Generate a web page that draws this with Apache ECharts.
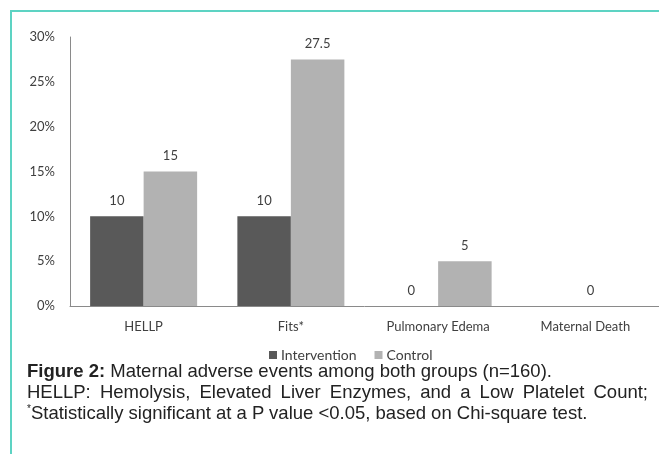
<!DOCTYPE html>
<html>
<head>
<meta charset="utf-8">
<script src="https://cdn.jsdelivr.net/npm/echarts@6/dist/echarts.min.js"></script>
<style>
  html, body { margin: 0; padding: 0; background: #fff; }
  #wrap { position: relative; width: 659px; height: 454px; overflow: hidden; }
  #chart { position: absolute; left: 0; top: 0; width: 659px; height: 454px; }
  #bt { position: absolute; left: 10px; top: 10px; width: 649px; height: 2px; background: #5dd3c3; }
  #bl { position: absolute; left: 10px; top: 10px; width: 2px; height: 444px; background: #5dd3c3; }
  .cap { position: absolute; left: 27px; font-family: "Liberation Sans", Arial, sans-serif; font-size: 18.5px; color: #222; white-space: nowrap; line-height: 21px; }
  #c2 { width: 621px; text-align: justify; text-align-last: justify; white-space: normal; }
</style>
</head>
<body>
<div id="wrap">
  <div id="chart"></div>
  <div id="bt"></div>
  <div id="bl"></div>
  <div class="cap" id="c1" style="top:360px;"><b>Figure 2:</b> Maternal adverse events among both groups (n=160).</div>
  <div class="cap" id="c2" style="top:381px;">HELLP: Hemolysis, Elevated Liver Enzymes, and a Low Platelet Count;</div>
  <div class="cap" id="c3" style="top:402px;"><sup style="font-size:10px;vertical-align:7px;line-height:0;">*</sup>Statistically significant at a P value &lt;0.05, based on Chi-square test.</div>
</div>
<script>
const categories = ["HELLP", "Fits*", "Pulmonary Edema", "Maternal Death"];
const intervention = [10, 10, 0, 0];
const control = [15, 27.5, 5, 0];
const yTicks = [0, 5, 10, 15, 20, 25, 30];

const chart = echarts.init(document.getElementById('chart'));
const font = 'Lato, "Open Sans", sans-serif';
const txt = '#404040';

const intData = intervention.map((v, i) => {
  if (i === 3) return { value: v, label: { offset: [32, 0] } };
  return v;
});
const ctlData = control.map((v, i) => {
  if (i === 3) return { value: v, label: { show: false } };
  return v;
});

chart.setOption({
  animation: false,
  grid: { left: 70, right: 0, top: 37, bottom: 148, containLabel: false },
  legend: {
    left: 264, top: 343,
    itemWidth: 8, itemHeight: 8, itemGap: 18,
    icon: 'rect',
    textStyle: { fontFamily: font, fontSize: 14, color: txt, padding: [0, 0, 0, -1] },
    data: ['Intervention', 'Control']
  },
  xAxis: {
    type: 'category',
    data: categories,
    axisLine: { lineStyle: { color: '#8a8a8a', width: 1 } },
    axisTick: { show: false },
    axisLabel: { fontFamily: font, fontSize: 13, color: txt, margin: 14 }
  },
  yAxis: {
    type: 'value',
    min: yTicks[0], max: yTicks[yTicks.length - 1], interval: 5,
    axisLine: { show: true, lineStyle: { color: '#8a8a8a', width: 1 } },
    axisTick: { show: false },
    splitLine: { show: false },
    axisLabel: { fontFamily: font, fontSize: 13, color: txt, margin: 15, formatter: '{value}%' }
  },
  series: [
    {
      name: 'Intervention', type: 'bar', data: intData,
      barWidth: 53.5, barGap: '0%',
      itemStyle: { color: '#595959' },
      label: { show: true, position: 'top', distance: 9, fontFamily: font, fontSize: 13, color: txt }
    },
    {
      name: 'Control', type: 'bar', data: ctlData,
      barWidth: 53.5, barGap: '0%',
      itemStyle: { color: '#b2b2b2' },
      label: { show: true, position: 'top', distance: 9, fontFamily: font, fontSize: 13, color: txt }
    }
  ]
});
</script>
</body>
</html>
